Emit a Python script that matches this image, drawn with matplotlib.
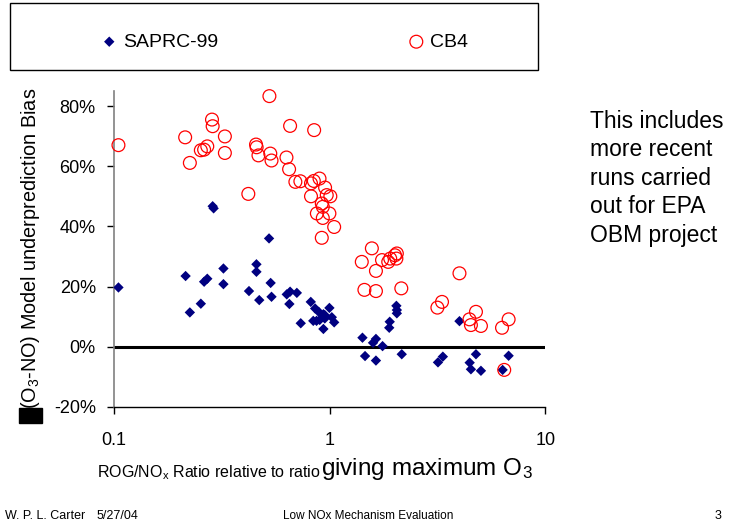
#
# Description: model underprediction bias vs ROG/NOx ratio (SAPRC-99 vs CB4)
#

import matplotlib
matplotlib.use('Agg')
import matplotlib.pyplot as plt
from matplotlib.patches import Rectangle
from matplotlib.ticker import FixedLocator, FixedFormatter, PercentFormatter, NullLocator

# 数据 (从图上读出来的估计值)
saprc_x = [0.105, 0.215, 0.225, 0.253, 0.262, 0.271, 0.287, 0.290, 0.322, 0.322,
           0.423, 0.458, 0.458, 0.472, 0.524, 0.533, 0.538, 0.633, 0.656, 0.705,
           0.651, 0.735, 0.818, 0.857, 0.89, 0.936, 0.95, 0.998, 0.84, 0.87,
           0.90, 0.95, 1.024, 1.05, 0.936, 1.42, 1.46, 1.59, 1.64, 1.64,
           1.76, 1.89, 1.90, 2.04, 2.05, 2.05, 2.16, 3.18, 3.35, 4.0,
           4.46, 4.52, 4.77, 5.03, 6.34, 6.76]
saprc_y = [0.197, 0.235, 0.114, 0.143, 0.216, 0.226, 0.467, 0.460, 0.260, 0.208,
           0.185, 0.274, 0.249, 0.155, 0.360, 0.212, 0.166, 0.174, 0.183, 0.179,
           0.142, 0.078, 0.149, 0.127, 0.116, 0.108, 0.105, 0.129, 0.086, 0.086,
           0.089, 0.094, 0.098, 0.081, 0.059, 0.030, -0.031, 0.013, 0.026, -0.046,
           0.002, 0.063, 0.083, 0.136, 0.122, 0.111, -0.025, -0.052, -0.033, 0.085,
           -0.053, -0.075, -0.025, -0.080, -0.077, -0.030]

cb4_x = [0.105, 0.214, 0.225, 0.253, 0.262, 0.271, 0.285, 0.287, 0.327, 0.327,
         0.420, 0.456, 0.459, 0.468, 0.526, 0.531, 0.538, 0.631, 0.649, 0.656,
         0.694, 0.732, 0.820, 0.845, 0.848, 0.898, 0.953, 0.820, 0.97, 1.008,
         0.92, 0.93, 0.873, 0.998, 0.93, 1.05, 0.92, 1.57, 1.41, 1.64,
         1.75, 1.87, 1.91, 2.01, 2.05, 2.04, 1.45, 1.64, 2.15, 3.32,
         3.16, 4.0, 4.45, 4.77, 4.52, 5.03, 6.3, 6.76, 6.45]
cb4_y = [0.670, 0.696, 0.611, 0.653, 0.655, 0.666, 0.755, 0.733, 0.699, 0.644,
         0.508, 0.672, 0.663, 0.636, 0.833, 0.642, 0.619, 0.629, 0.590, 0.734,
         0.548, 0.550, 0.543, 0.551, 0.720, 0.559, 0.529, 0.500, 0.504, 0.500,
         0.476, 0.465, 0.443, 0.443, 0.428, 0.398, 0.362, 0.327, 0.282, 0.252,
         0.288, 0.282, 0.293, 0.304, 0.310, 0.293, 0.189, 0.185, 0.194, 0.149,
         0.130, 0.244, 0.091, 0.116, 0.072, 0.069, 0.063, 0.091, -0.077]

x_ticks = [0.1, 1, 10]
x_tick_labels = ['0.1', '1', '10']
y_ticks = [-0.2, 0, 0.2, 0.4, 0.6, 0.8]

plt.rcParams['font.family'] = ['Liberation Sans', 'DejaVu Sans']
plt.rcParams['mathtext.fontset'] = 'custom'
plt.rcParams['mathtext.rm'] = 'Liberation Sans'
plt.rcParams['mathtext.it'] = 'Liberation Sans:italic'
plt.rcParams['axes.unicode_minus'] = False


def make_chart():
    fig = plt.figure(figsize=(7.3, 5.23), dpi=100)
    ax = fig.add_axes([0.156, 0.222, 0.591, 0.604])

    ax.axhline(0, color='black', lw=2.2, zorder=1)
    s1 = ax.scatter(saprc_x, saprc_y, marker='D', s=28, color='#000080',
                    edgecolors='none', zorder=3, label='SAPRC-99', clip_on=False)
    s2 = ax.scatter(cb4_x, cb4_y, marker='o', s=85, facecolors='none',
                    edgecolors='#FF0000', linewidths=0.9, zorder=4, label='CB4',
                    clip_on=False)

    ax.set_xscale('log')
    ax.set_xlim(0.1, 10)
    ax.set_ylim(-0.2, 0.85)
    ax.xaxis.set_major_locator(FixedLocator(x_ticks))
    ax.xaxis.set_major_formatter(FixedFormatter(x_tick_labels))
    ax.xaxis.set_minor_locator(NullLocator())
    ax.yaxis.set_major_locator(FixedLocator(y_ticks))
    ax.yaxis.set_major_formatter(PercentFormatter(1.0, decimals=0))

    for side in ['top', 'right']:
        ax.spines[side].set_visible(False)
    ax.spines['left'].set_color('#808080')
    ax.spines['left'].set_linewidth(1.2)
    ax.spines['bottom'].set_linewidth(1.0)
    ax.tick_params(axis='x', direction='out', length=5, width=1, pad=13, labelsize=13)
    ax.tick_params(axis='y', direction='out', length=5, width=1, pad=8, labelsize=13)

    # x 轴标题: 前半部分字小, 后半部分字大
    t1 = fig.text(97 / 730, 1 - 477 / 523, r'ROG/NO$_{\mathrm{x}}$ Ratio relative to ratio ',
                  fontsize=11.5, ha='left', va='baseline')
    ax.annotate(r'giving maximum O$_{3}$', xy=(1, 0), xycoords=t1,
                fontsize=17.5, ha='left', va='bottom')

    # y 轴标题 + 黑块
    fig.text(31 / 730, 1 - 248 / 523, r'(O$_{3}$-NO) Model underprediction Bias',
             rotation=90, fontsize=14.3, ha='center', va='center')
    fig.add_artist(Rectangle((19 / 730, 1 - 423 / 523), 23 / 730, 15 / 523,
                             transform=fig.transFigure, color='black'))

    # 图例 (外框单独画)
    fig.add_artist(Rectangle((10 / 730, 1 - 70 / 523), 528 / 730, 67 / 523,
                             transform=fig.transFigure, fill=False,
                             edgecolor='black', linewidth=1))
    fig.legend(handles=[s1, s2], loc='center', bbox_to_anchor=(0.390, 1 - 42 / 523),
               ncol=2, frameon=False, fontsize=14, scatterpoints=1,
               handlelength=0.8, handletextpad=0.3, columnspacing=9.8)

    # 右侧说明文字
    fig.text(590 / 730, 1 - 110 / 523,
             'This includes\nmore recent\nruns carried\nout for EPA\nOBM project',
             fontsize=16.5, ha='left', va='top', linespacing=1.3)

    # 页脚
    fig.text(5 / 730, 1 - 516 / 523, 'W. P. L. Carter', fontsize=9, va='center')
    fig.text(97 / 730, 1 - 516 / 523, '5/27/04', fontsize=9, va='center')
    fig.text(283 / 730, 1 - 516 / 523, 'Low NOx Mechanism Evaluation', fontsize=8.5,
             va='center')
    fig.text(715 / 730, 1 - 516 / 523, '3', fontsize=9, va='center')

    plt.savefig('out.png', dpi=100)


if __name__ == "__main__":
    make_chart()
